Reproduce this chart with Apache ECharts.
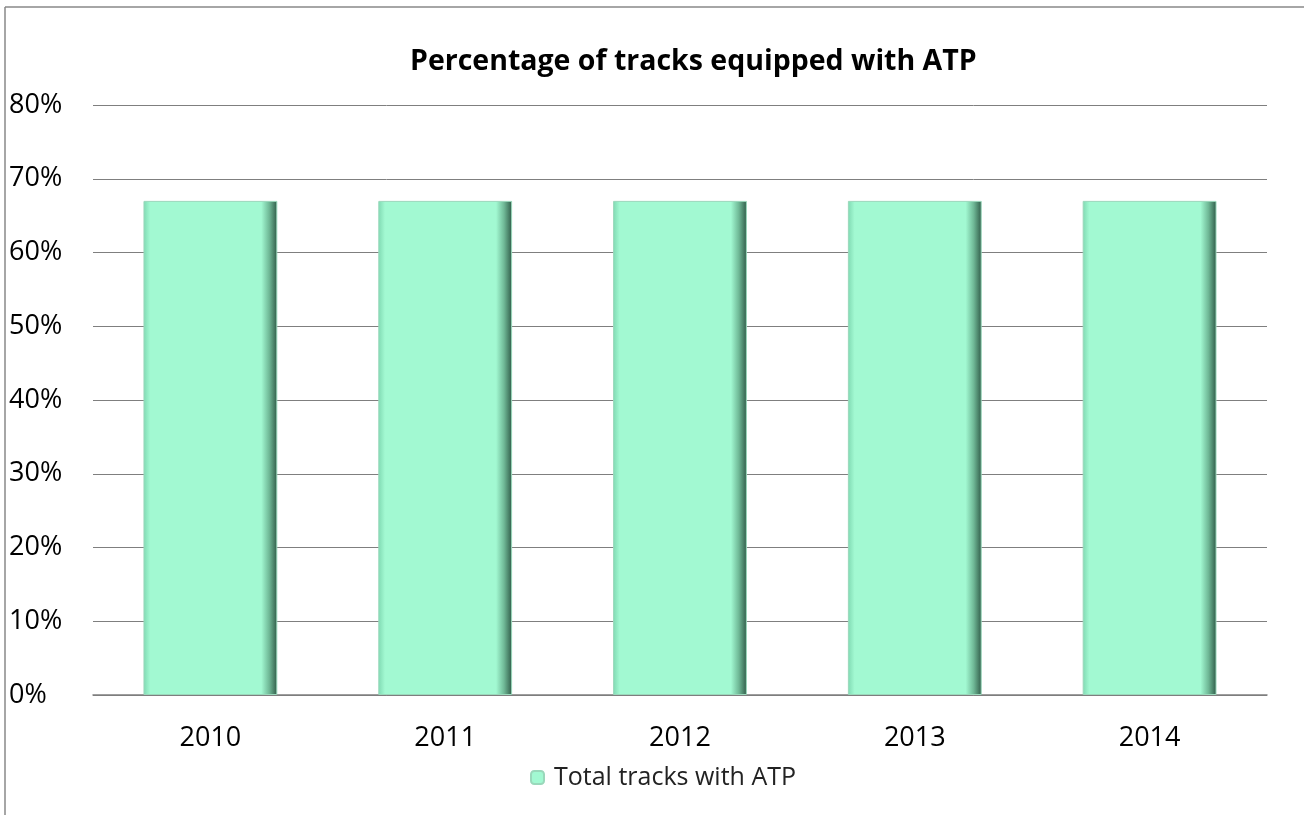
<!DOCTYPE html>
<html><head><meta charset="utf-8">
<script src="https://cdn.jsdelivr.net/npm/echarts@6/dist/echarts.min.js"></script>
<style>html,body{margin:0;padding:0;background:#fff}#c{width:1304px;height:815px}</style>
</head><body><div id="c"></div>
<script>
const categories = ['2010', '2011', '2012', '2013', '2014'];
const seriesName = 'Total tracks with ATP';
const values = [67, 67, 67, 67, 67];
const titleText = 'Percentage of tracks equipped with ATP';

const chart = echarts.init(document.getElementById('c'));
const fill = new echarts.graphic.LinearGradient(0, 0, 1, 0, [
  {offset: 0, color: '#7fd9b2'},
  {offset: 0.05, color: '#a2f9d2'},
  {offset: 0.88, color: '#a2f9d2'},
  {offset: 0.94, color: '#6fb896'},
  {offset: 1, color: '#2f5a47'}
]);
chart.setOption({
  animation: false,
  textStyle: {fontFamily: 'Open Sans'},
  title: {text: titleText, left: 405, top: 42,
    textStyle: {fontSize: 28.5, fontWeight: 'bold', color: '#000', fontFamily: 'Open Sans'}},
  legend: {data: [seriesName], bottom: 20, left: 525, itemWidth: 13, itemHeight: 13, itemGap: 6,
    textStyle: {fontSize: 25, color: '#222', padding: [0, 0, 0, 5]}},
  grid: {left: 93, right: 37, top: 105, bottom: 120},
  xAxis: {type: 'category', data: categories,
    axisLine: {lineStyle: {color: '#7f7f7f', width: 1.5}}, axisTick: {show: false},
    axisLabel: {fontSize: 27, color: '#000', margin: 30}},
  yAxis: {type: 'value', min: 0, max: 80, interval: 10,
    axisLabel: {formatter: '{value}%', fontSize: 27, color: '#000', align: 'left', margin: 84},
    splitLine: {lineStyle: {color: '#7f7f7f', width: 1}}},
  graphic: [
    {type: 'line', shape: {x1: 5, y1: 7, x2: 1304, y2: 7}, style: {stroke: '#888', lineWidth: 1.5}},
    {type: 'line', shape: {x1: 5, y1: 7, x2: 5, y2: 815}, style: {stroke: '#888', lineWidth: 1.5}}
  ],
  series: [{name: seriesName, type: 'bar', data: values, barWidth: '57%',
    itemStyle: {color: fill, borderColor: '#9ad8bb', borderWidth: 1}}]
});
</script></body></html>
